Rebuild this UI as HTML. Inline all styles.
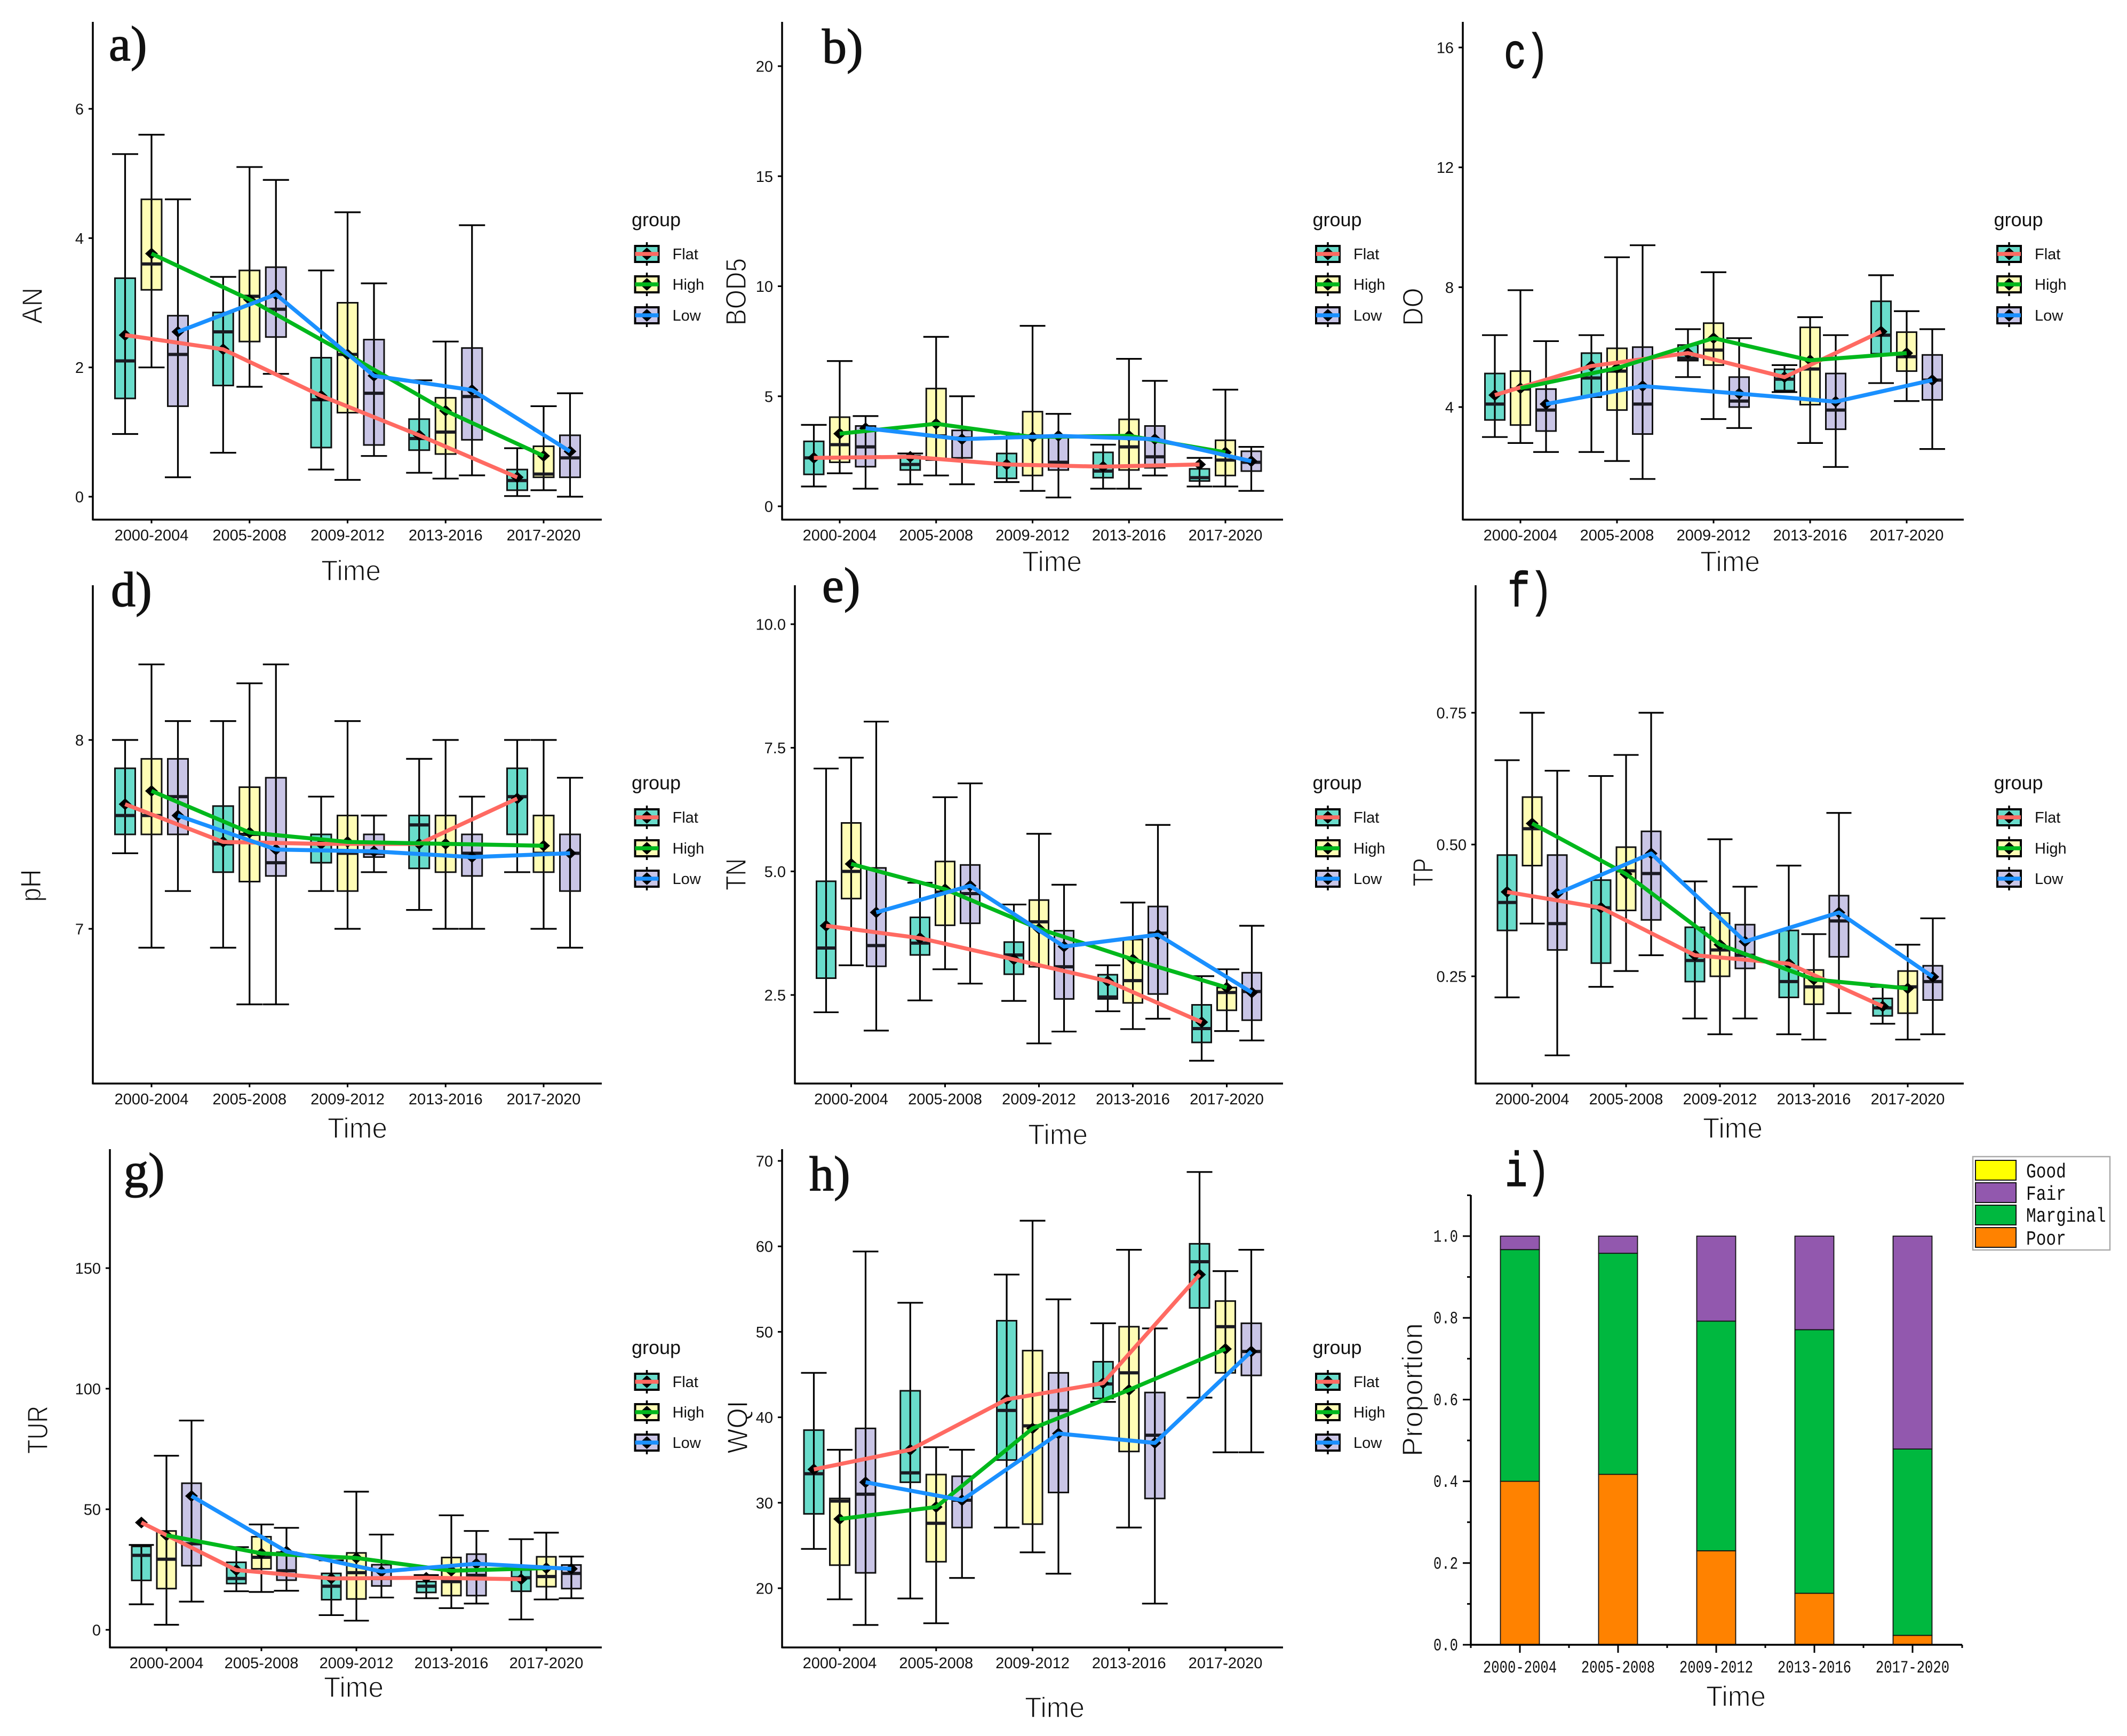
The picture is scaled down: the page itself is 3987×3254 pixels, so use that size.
<!DOCTYPE html>
<html lang="en">
<head>
<meta charset="utf-8">
<title>Water quality by time period and terrain group</title>
<style>
html,body{margin:0;padding:0;background:#fff;}
svg{display:block;}
text{font-family:"Liberation Sans",sans-serif;fill:#111;}
</style>
</head>
<body>
<svg id="figure" xmlns="http://www.w3.org/2000/svg" width="3987" height="3254" viewBox="0 0 3987 3254">
<rect width="3987" height="3254" fill="#fff"/>
</svg>
<script>
// Shared categories and legend
const categories = ['2000-2004','2005-2008','2009-2012','2013-2016','2017-2020'];
const groupNames = ['Flat','High','Low'];
const stackNames = ['Good','Fair','Marginal','Poor'];

// Each row: whisker top, box top, median, box bottom, whisker bottom, mean
const anFlat = [[5.3,3.38,2.1,1.52,0.97,2.5],[3.4,2.85,2.55,1.72,0.68,2.28],[3.5,2.15,1.5,0.76,0.42,1.56],[1.8,1.2,0.9,0.72,0.37,0.95],[0.75,0.42,0.25,0.1,0.01,0.3]];
const anHigh = [[5.6,4.6,3.6,3.2,2.0,3.76],[5.1,3.5,3.1,2.4,1.7,3.05],[4.4,3.0,2.2,1.3,0.26,2.2],[2.4,1.53,1.0,0.66,0.28,1.33],[1.4,0.78,0.35,0.3,0.1,0.63]];
const anLow = [[4.6,2.8,2.2,1.4,0.3,2.55],[4.9,3.55,2.9,2.47,1.9,3.13],[3.3,2.43,1.6,0.8,0.63,1.87],[4.2,2.3,1.55,0.88,0.33,1.65],[1.6,0.95,0.6,0.3,0.0,0.7]];
const anTicks = [0,2,4,6];
const anTickLabels = ['0','2','4','6'];

const bodFlat = [[3.7,2.95,2.2,1.45,0.9,2.2],[2.4,2.3,1.9,1.65,1.0,2.25],[3.3,2.4,1.9,1.27,1.1,1.9],[2.8,2.45,1.6,1.3,0.8,1.8],[2.2,1.7,1.3,1.15,0.9,1.9]];
const bodHigh = [[6.6,4.05,2.8,2.0,1.5,3.3],[7.7,5.35,3.2,2.1,1.4,3.75],[8.2,4.3,3.2,1.4,0.7,3.15],[6.7,3.95,2.7,1.65,0.8,3.2],[5.3,3.0,2.1,1.4,0.9,2.45]];
const bodLow = [[4.1,3.65,2.7,1.8,0.8,3.55],[5.0,3.45,3.1,2.2,1.0,3.05],[4.2,3.2,2.0,1.65,0.4,3.2],[5.7,3.65,2.25,1.75,1.4,3.05],[2.7,2.5,2.0,1.6,0.7,2.05]];
const bodTicks = [0,5,10,15,20];
const bodTickLabels = ['0','5','10','15','20'];

const doFlat = [[6.4,5.12,4.1,3.57,3.0,4.4],[6.4,5.8,4.97,4.33,2.5,5.37],[6.6,6.07,5.63,5.55,5.0,5.8],[5.4,5.26,4.93,4.55,4.5,5.0],[8.4,7.53,6.4,5.78,4.8,6.52]];
const doHigh = [[7.9,5.2,4.6,3.4,2.8,4.63],[9.0,5.96,5.2,3.9,2.2,5.3],[8.5,6.8,5.9,5.4,3.6,6.3],[7.0,6.66,5.27,4.08,2.8,5.56],[7.2,6.5,5.68,5.2,4.2,5.8]];
const doLow = [[6.2,4.6,3.9,3.2,2.5,4.1],[9.4,6.0,4.1,3.1,1.6,4.7],[6.3,5.0,4.2,4.0,3.3,4.45],[6.4,5.12,3.9,3.26,2.0,4.18],[6.6,5.74,4.9,4.24,2.6,4.9]];
const doTicks = [4,8,12,16];
const doTickLabels = ['4','8','12','16'];

const phFlat = [[8.0,7.85,7.6,7.5,7.4,7.66],[8.1,7.65,7.45,7.3,6.9,7.46],[7.7,7.5,7.45,7.35,7.2,7.45],[7.9,7.6,7.55,7.32,7.1,7.45],[8.0,7.85,7.7,7.5,7.3,7.69]];
const phHigh = [[8.4,7.9,7.6,7.5,6.9,7.73],[8.3,7.75,7.5,7.25,6.6,7.51],[8.1,7.6,7.4,7.2,7.0,7.46],[8.0,7.6,7.45,7.3,7.0,7.45],[8.0,7.6,7.4,7.3,7.0,7.44]];
const phLow = [[8.1,7.9,7.7,7.5,7.2,7.6],[8.4,7.8,7.35,7.28,6.6,7.42],[7.6,7.5,7.4,7.38,7.3,7.41],[7.7,7.5,7.4,7.28,7.0,7.38],[7.8,7.5,7.4,7.2,6.9,7.4]];
const phTicks = [7,8];
const phTickLabels = ['7','8'];

const tnFlat = [[7.08,4.8,3.45,2.84,2.15,3.9],[4.77,4.07,3.55,3.31,2.39,3.65],[4.33,3.57,3.31,2.92,2.38,3.22],[3.1,2.91,2.46,2.42,2.17,2.78],[2.88,2.3,1.82,1.54,1.17,1.95]];
const tnHigh = [[7.3,5.98,5.0,4.45,3.1,5.15],[6.5,5.2,4.58,3.91,3.02,4.64],[5.76,4.42,3.98,3.07,1.52,3.84],[4.37,3.62,2.79,2.34,1.81,3.22],[3.02,2.65,2.55,2.19,1.77,2.65]];
const tnLow = [[8.03,5.07,3.5,3.08,1.78,4.17],[6.78,5.13,4.55,3.95,2.73,4.71],[4.73,3.8,3.07,2.42,1.76,3.48],[5.94,4.29,3.75,2.52,2.02,3.72],[3.9,2.95,2.57,1.99,1.58,2.55]];
const tnTicks = [2.5,5,7.5,10];
const tnTickLabels = ['2.5','5.0','7.5','10.0'];

const tpFlat = [[0.66,0.48,0.39,0.337,0.21,0.41],[0.63,0.4325,0.38,0.275,0.23,0.38],[0.43,0.343,0.28,0.24,0.17,0.29],[0.46,0.337,0.24,0.21,0.14,0.274],[0.23,0.208,0.19,0.175,0.16,0.193]];
const tpHigh = [[0.75,0.59,0.53,0.46,0.35,0.54],[0.67,0.495,0.45,0.375,0.26,0.444],[0.51,0.37,0.30,0.25,0.14,0.31],[0.33,0.262,0.23,0.197,0.13,0.244],[0.31,0.26,0.23,0.18,0.13,0.227]];
const tpLow = [[0.64,0.48,0.35,0.30,0.10,0.407],[0.75,0.525,0.445,0.357,0.29,0.483],[0.42,0.348,0.29,0.265,0.17,0.316],[0.56,0.403,0.355,0.287,0.18,0.371],[0.36,0.27,0.24,0.205,0.14,0.249]];
const tpTicks = [0.25,0.5,0.75];
const tpTickLabels = ['0.25','0.50','0.75'];

const turFlat = [[35.2,34.6,30.9,20.5,10.6,44.5],[34.3,28,21.3,19.2,16,24.8],[28.8,23.4,18.1,12.5,6.1,21.3],[22.7,20,18.1,15.5,13.1,21.6],[37.6,24.8,21.6,16,4.3,21]];
const turHigh = [[72.2,41,29.3,17.1,2.1,39.2],[43.7,38.6,30.1,25.3,15.7,31.7],[57.3,31.9,23.7,12.8,3.8,29.8],[47.5,30,20,14.2,9,24.5],[40.3,30.3,22.1,17.9,12.6,25.6]];
const turLow = [[86.8,60.8,35.7,26.6,11.7,55.5],[42.3,32.2,24.5,20.6,16.2,32.5],[39.5,27,21.3,18.2,13.4,24.2],[41,31.4,22.6,14.2,10.9,27.4],[30.4,26.9,23.4,17.1,13.1,25.3]];
const turTicks = [0,50,100,150];
const turTickLabels = ['0','50','100','150'];

const wqiFlat = [[45.2,38.5,33.4,28.7,24.6,33.9],[53.4,43.1,33.5,32.4,18.8,36.2],[56.7,51.3,40.8,35,27.1,42.1],[51,46.5,43.9,42.2,41.8,44],[68.7,60.3,58.2,52.8,42.3,56.7]];
const wqiHigh = [[36.2,30.5,30.2,22.7,18.7,28.1],[36.5,33.3,27.6,23.1,15.9,29.5],[63,47.8,39,27.5,24.2,38.7],[59.6,50.6,45.2,36,27.1,43.2],[57.1,53.6,50.6,45.2,35.9,48]];
const wqiLow = [[59.4,38.7,31,21.8,15.7,32.4],[36.2,33.1,30.3,27.1,21.2,30.3],[53.8,45.2,40.8,31.2,21.7,38.1],[50.4,42.9,37.9,30.5,18.2,37],[59.6,51,47.7,44.9,35.9,47.7]];
const wqiTicks = [20,30,40,50,60,70];
const wqiTickLabels = ['20','30','40','50','60','70'];

// Stacked proportions
const stackPoor = [0.4,0.417,0.23,0.126,0.023];
const stackMarginal = [0.567,0.541,0.562,0.645,0.456];
const stackFair = [0.033,0.042,0.208,0.229,0.521];
const stackGood = [0,0,0,0,0];
const stackTicks = [0,0.2,0.4,0.6,0.8,1.0];
const stackTickLabels = ['0.0','0.2','0.4','0.6','0.8','1.0'];
const stackMinorTicks = [0.1,0.3,0.5,0.7,0.9,1.1];

const NS = 'http://www.w3.org/2000/svg';
const figure = document.getElementById('figure');
const fillColors = ['#69DCCB','#FFFDB5','#C9C5E6'];
const lineColors = ['#FF6A62','#00B81C','#1A90FF'];

function mk(parent, tag, attrs) {
  const el = document.createElementNS(NS, tag);
  for (const k in attrs) el.setAttribute(k, attrs[k]);
  parent.appendChild(el);
  return el;
}

function txt(parent, str, x, y, size, sx, anchor, opts) {
  const o = opts || {};
  const a = {
    'font-size': size,
    'text-anchor': anchor,
    transform: 'translate(' + x + ',' + y + ') rotate(' + (o.rot || 0) + ') scale(' + sx + ',1)'
  };
  if (o.len) { a.textLength = o.len; a.lengthAdjust = 'spacingAndGlyphs'; }
  if (o.stroke) { a.stroke = o.stroke; a['stroke-width'] = o.strokeWidth; }
  const el = mk(parent, 'text', a);
  if (o.family) el.style.fontFamily = o.family;
  el.textContent = str;
  return el;
}

function linePath(parent, x1, y1, x2, y2, color, w) {
  return mk(parent, 'line', {x1: x1, y1: y1, x2: x2, y2: y2, stroke: color, 'stroke-width': w});
}

function drawTitles(g, p) {
  const letter = txt(g, p.letter, p.letterX, p.letterY, p.letterSize, p.letterSx, 'start', {family: p.letterFamily, stroke: '#111', strokeWidth: 1.5});
  
  
  const xt = txt(g, 'Time', p.timeX, p.timeY, 54, 1, 'middle', {len: 112, stroke: '#fff', strokeWidth: 1.4});
  
  
  const yt = txt(g, p.yTitle, p.yTitleX, p.yTitleY, 54, 1, 'middle', {rot: -90, len: p.yTitleLen, stroke: '#fff', strokeWidth: 1.4});
  
  
}

function drawGroupLegend(g, x, yGroup, rows) {
  const lg = mk(g, 'g', {});
  
  
  const title = txt(lg, 'group', x - 28.5, yGroup, 36, 1, 'start');
  
  
  groupNames.forEach(function (name, i) {
    const cy = rows[i];
    const key = mk(lg, 'g', {});
    
    
    linePath(key, x, cy - 22, x, cy + 22, '#000', 3.5);
    mk(key, 'rect', {x: x - 22, y: cy - 15, width: 44, height: 30, fill: fillColors[i], stroke: '#000', 'stroke-width': 4});
    mk(key, 'polygon', {points: [x, cy - 12, x + 13, cy, x, cy + 12, x - 13, cy].join(' '), fill: '#000'});
    linePath(key, x - 22, cy, x + 22, cy, lineColors[i], 7.5);
    const label = txt(key, name, x + 48, cy + 10, 29, 1, 'start');
    
    
  });
}

function drawBoxPanel(p) {
  const g = mk(figure, 'g', {});
  
  

  const yScale = function (v) { return p.p0 + (v - p.v0) * (p.p1 - p.p0) / (p.v1 - p.v0); };
  const xScale = function (c, s) { return p.xFirst + c * p.xStep + (s - 1) * p.dodge; };

  // axes
  const yAxis = linePath(g, p.xLeft, p.yTop, p.xLeft, p.yBottom + 1.5, '#000', 3.5);
  
  
  const xAxis = linePath(g, p.xLeft, p.yBottom, p.xRight, p.yBottom, '#000', 3.5);
  
  

  p.ticks.forEach(function (t, i) {
    const y = yScale(t);
    const tick = linePath(g, p.xLeft - 8, y, p.xLeft, y, '#000', 3);
    
    
    const lab = txt(g, p.tickLabels[i], p.xLeft - 17, y + 10.5, 29, 1, 'end');
    
    
  });
  categories.forEach(function (c, i) {
    const x = xScale(i, 1);
    const tick = linePath(g, x, p.yBottom, x, p.yBottom + 7, '#000', 3);
    
    
    const lab = txt(g, c, x, p.yBottom + 39, 29, 1, 'middle');
    
    
  });

  // boxes
  p.series.forEach(function (rows, s) {
    rows.forEach(function (r, c) {
      const x = xScale(c, s);
      const box = mk(g, 'g', {});
      
      
      const yT = yScale(r[0]), yQ3 = yScale(r[1]), yM = yScale(r[2]), yQ1 = yScale(r[3]), yB = yScale(r[4]);
      mk(box, 'rect', {x: x - p.boxW / 2, y: yQ3, width: p.boxW, height: yQ1 - yQ3, fill: fillColors[s], stroke: 'none'});
      linePath(box, x, yT, x, yB, '#000', 3.2);
      linePath(box, x - p.capW / 2 - 3, yT, x + p.capW / 2 + 3, yT, '#000', 3.2);
      linePath(box, x - p.capW / 2 - 3, yB, x + p.capW / 2 + 3, yB, '#000', 3.2);
      mk(box, 'rect', {x: x - p.boxW / 2, y: yQ3, width: p.boxW, height: yQ1 - yQ3, fill: 'none', stroke: '#111', 'stroke-width': 3});
      linePath(box, x - p.boxW / 2, yM, x + p.boxW / 2, yM, '#1a1a22', 6);
    });
  });

  // mean markers
  p.series.forEach(function (rows, s) {
    rows.forEach(function (r, c) {
      const x = xScale(c, s), y = yScale(r[5]);
      const d = mk(g, 'polygon', {points: [x, y - 11, x + 12, y, x, y + 11, x - 12, y].join(' '), fill: '#000'});
      
      
    });
  });

  // mean lines
  p.series.forEach(function (rows, s) {
    const pts = rows.map(function (r, c) { return xScale(c, s) + ',' + yScale(r[5]); }).join(' ');
    const ln = mk(g, 'polyline', {points: pts, fill: 'none', stroke: lineColors[s], 'stroke-width': 7.5, 'stroke-linejoin': 'round'});
    
    
  });

  drawTitles(g, p);
  drawGroupLegend(g, p.legendX, p.legendTitleY, p.legendRows);
}

const serif = '"Liberation Serif",serif';
const mono = '"Liberation Mono",monospace';
const row1Legend = [476, 533, 591];
const row2Legend = [1532, 1590, 1647];
const row3Legend = [2590, 2647, 2704];

drawBoxPanel({name: 'an', letter: 'a)', letterX: 204, letterY: 113, letterSize: 92, letterSx: 1, letterFamily: serif,
  yTitle: 'AN', yTitleX: 79, yTitleY: 573, yTitleLen: 68, timeX: 658, timeY: 1088,
  xLeft: 174, xRight: 1128, yTop: 41, yBottom: 974, v0: 0, p0: 931, v1: 6, p1: 204,
  xFirst: 284, xStep: 183.75, dodge: 49.5, boxW: 38, capW: 43,
  ticks: anTicks, tickLabels: anTickLabels, series: [anFlat, anHigh, anLow],
  legendX: 1212.5, legendTitleY: 424, legendRows: row1Legend});

drawBoxPanel({name: 'bod5', letter: 'b)', letterX: 1541, letterY: 118, letterSize: 92, letterSx: 1, letterFamily: serif,
  yTitle: 'BOD5', yTitleX: 1398, yTitleY: 547, yTitleLen: 126, timeX: 1972, timeY: 1071,
  xLeft: 1466, xRight: 2405, yTop: 41, yBottom: 974, v0: 0, p0: 949, v1: 20, p1: 124,
  xFirst: 1574, xStep: 180.75, dodge: 48.5, boxW: 37, capW: 42,
  ticks: bodTicks, tickLabels: bodTickLabels, series: [bodFlat, bodHigh, bodLow],
  legendX: 2489, legendTitleY: 424, legendRows: row1Legend});

drawBoxPanel({name: 'do', letter: 'c)', letterX: 2819, letterY: 127, letterSize: 92, letterSx: 0.76, letterFamily: mono,
  yTitle: 'DO', yTitleX: 2667, yTitleY: 575, yTitleLen: 71, timeX: 3243, timeY: 1071,
  xLeft: 2742, xRight: 3681, yTop: 41, yBottom: 974, v0: 4, p0: 763, v1: 16, p1: 89,
  xFirst: 2850, xStep: 181, dodge: 48, boxW: 37, capW: 42,
  ticks: doTicks, tickLabels: doTickLabels, series: [doFlat, doHigh, doLow],
  legendX: 3766, legendTitleY: 424, legendRows: row1Legend});

drawBoxPanel({name: 'ph', letter: 'd)', letterX: 208, letterY: 1136, letterSize: 92, letterSx: 1, letterFamily: serif,
  yTitle: 'pH', yTitleX: 76, yTitleY: 1660, yTitleLen: 61, timeX: 670, timeY: 2133,
  xLeft: 174, xRight: 1128, yTop: 1097, yBottom: 2031, v0: 7, p0: 1741, v1: 8, p1: 1387,
  xFirst: 284, xStep: 183.75, dodge: 49.5, boxW: 38, capW: 43,
  ticks: phTicks, tickLabels: phTickLabels, series: [phFlat, phHigh, phLow],
  legendX: 1212.5, legendTitleY: 1479.5, legendRows: row2Legend});

drawBoxPanel({name: 'tn', letter: 'e)', letterX: 1541, letterY: 1128, letterSize: 92, letterSx: 1, letterFamily: serif,
  yTitle: 'TN', yTitleX: 1398, yTitleY: 1639, yTitleLen: 60, timeX: 1983, timeY: 2145,
  xLeft: 1490, xRight: 2405, yTop: 1097, yBottom: 2031, v0: 2.5, p0: 1865, v1: 10, p1: 1170,
  xFirst: 1595.5, xStep: 176, dodge: 47, boxW: 36, capW: 41,
  ticks: tnTicks, tickLabels: tnTickLabels, series: [tnFlat, tnHigh, tnLow],
  legendX: 2489, legendTitleY: 1479.5, legendRows: row2Legend});

drawBoxPanel({name: 'tp', letter: 'f)', letterX: 2826, letterY: 1136, letterSize: 92, letterSx: 0.76, letterFamily: mono,
  yTitle: 'TP', yTitleX: 2686, yTitleY: 1635, yTitleLen: 53, timeX: 3248, timeY: 2133,
  xLeft: 2766, xRight: 3681, yTop: 1097, yBottom: 2031, v0: 0.25, p0: 1830, v1: 0.75, p1: 1336,
  xFirst: 2872, xStep: 176, dodge: 47, boxW: 36, capW: 41,
  ticks: tpTicks, tickLabels: tpTickLabels, series: [tpFlat, tpHigh, tpLow],
  legendX: 3766, legendTitleY: 1479.5, legendRows: row2Legend});

drawBoxPanel({name: 'tur', letter: 'g)', letterX: 232, letterY: 2225, letterSize: 92, letterSx: 1, letterFamily: serif,
  yTitle: 'TUR', yTitleX: 89, yTitleY: 2680, yTitleLen: 90, timeX: 663, timeY: 3181,
  xLeft: 206, xRight: 1128, yTop: 2154, yBottom: 3088, v0: 0, p0: 3055, v1: 150, p1: 2377,
  xFirst: 312, xStep: 178, dodge: 47, boxW: 36, capW: 41,
  ticks: turTicks, tickLabels: turTickLabels, series: [turFlat, turHigh, turLow],
  legendX: 1212.5, legendTitleY: 2538, legendRows: row3Legend});

drawBoxPanel({name: 'wqi', letter: 'h)', letterX: 1517, letterY: 2231, letterSize: 92, letterSx: 1, letterFamily: serif,
  yTitle: 'WQI', yTitleX: 1401, yTitleY: 2675, yTitleLen: 99, timeX: 1977, timeY: 3219,
  xLeft: 1466, xRight: 2405, yTop: 2154, yBottom: 3088, v0: 20, p0: 2977, v1: 70, p1: 2176,
  xFirst: 1574, xStep: 180.75, dodge: 48.5, boxW: 37, capW: 42,
  ticks: wqiTicks, tickLabels: wqiTickLabels, series: [wqiFlat, wqiHigh, wqiLow],
  legendX: 2489, legendTitleY: 2538, legendRows: row3Legend});

// Panel i: stacked bars
(function () {
  const g = mk(figure, 'g', {});
  
  
  const xLeft = 2757, xRight = 3678, yTop = 2240, yBase = 3083, yOne = 2317;
  const yScale = function (v) { return yBase + v * (yOne - yBase); };
  const catStep = 184;
  const xScale = function (c) { return 2849 + c * catStep; };
  const stackSeries = [stackPoor, stackMarginal, stackFair, stackGood];
  const stackLabels = ['Poor', 'Marginal', 'Fair', 'Good'];
  const stackColors = ['#FF8200', '#00B83F', '#9258AE', '#FFFF00'];

  categories.forEach(function (c, i) {
    let base = 0;
    stackSeries.forEach(function (arr, s) {
      const v = arr[i];
      const r = mk(g, 'rect', {x: xScale(i) - 36.5, y: yScale(base + v), width: 73, height: yScale(base) - yScale(base + v), fill: stackColors[s], stroke: '#111', 'stroke-width': 1.8});
      
      
      base += v;
    });
    const tick = linePath(g, xScale(i), yBase, xScale(i), yBase + 15, '#000', 3);
    
    
    const minor = linePath(g, xScale(i) - catStep / 2, yBase, xScale(i) - catStep / 2, yBase + 6, '#000', 3);
    
    
    const lab = txt(g, c, xScale(i), 3135, 32, 0.8, 'middle', {family: mono});
    
    
  });
  const lastMinor = linePath(g, xRight, yBase, xRight, yBase + 6, '#000', 3);
  
  

  const yAxis = linePath(g, xLeft, yTop, xLeft, yBase + 1.5, '#000', 3.5);
  
  
  const xAxis = linePath(g, xLeft, yBase, xRight, yBase, '#000', 3.5);
  
  

  stackTicks.forEach(function (t, i) {
    const y = yScale(t);
    const tick = linePath(g, xLeft - 15, y, xLeft, y, '#000', 3);
    
    
    const lab = txt(g, stackTickLabels[i], 2733, y + 10.5, 32, 0.8, 'end', {family: mono});
    
    
  });
  stackMinorTicks.forEach(function (t) {
    const y = yScale(t);
    const tick = linePath(g, xLeft - 7, y, xLeft, y, '#000', 3);
    
    
  });

  const leg = mk(g, 'g', {});
  
  
  mk(leg, 'rect', {x: 3698, y: 2168, width: 257, height: 175, fill: '#fff', stroke: '#aaa', 'stroke-width': 2.5});
  const swatchTop = [2175, 2217, 2259, 2301];
  const textBase = [2207, 2249, 2290, 2333];
  const swatchColors = ['#FFFF00', '#9258AE', '#00B83F', '#FF8200'];
  stackNames.forEach(function (name, i) {
    const entry = mk(leg, 'g', {});
    
    
    mk(entry, 'rect', {x: 3703, y: swatchTop[i], width: 76, height: 37, fill: swatchColors[i], stroke: '#111', 'stroke-width': 2});
    const lab = txt(entry, name, 3798, textBase[i], 38, 0.82, 'start', {family: mono});
    
    
  });

  drawTitles(g, {letter: 'i)', letterX: 2821, letterY: 2223, letterSize: 92, letterSx: 0.76, letterFamily: mono,
    yTitle: 'Proportion', yTitleX: 2666, yTitleY: 2605, yTitleLen: 250, timeX: 3254, timeY: 3198});
})();
</script>
</body>
</html>
